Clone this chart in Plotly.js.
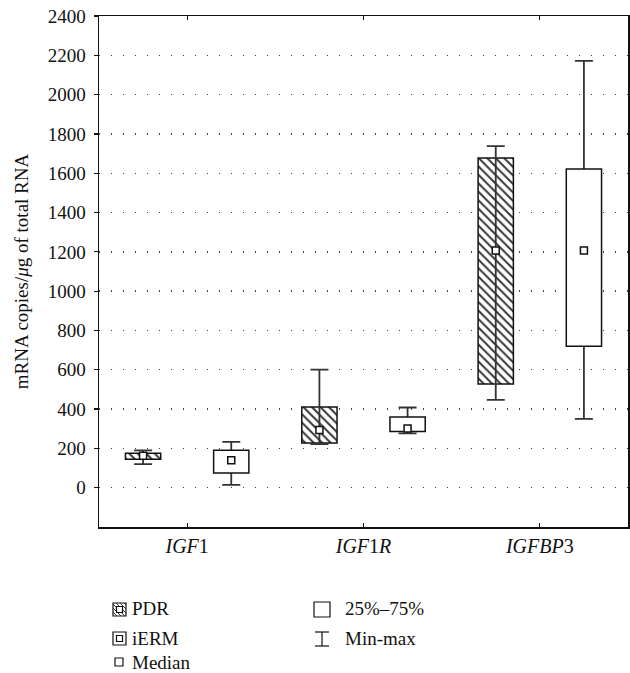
<!DOCTYPE html>
<html>
<head>
<meta charset="utf-8">
<script src="https://cdn.plot.ly/plotly-3.0.1.min.js"></script>
<style>html,body{margin:0;padding:0;background:#fff;}#chart{width:630px;height:673px;}</style>
</head>
<body>
<div id="chart"></div>
<script>
// ---- data ----
const genes = ['IGF1', 'IGF1R', 'IGFBP3'];
const geneLabels = ['<i>IGF</i>1', '<i>IGF</i>1<i>R</i>', '<i>IGFBP</i>3'];
const pdrMin    = [120, 222, 447];
const pdrQ1     = [145, 228, 528];
const pdrMedian = [163, 293, 1207];
const pdrQ3     = [175, 411, 1678];
const pdrMax    = [190, 601, 1738];
const iermMin    = [14, 276, 350];
const iermQ1     = [75, 286, 720];
const iermMedian = [140, 301, 1207];
const iermQ3     = [191, 360, 1622];
const iermMax    = [233, 408, 2172];
const yTicks = [0, 200, 400, 600, 800, 1000, 1200, 1400, 1600, 1800, 2000, 2200, 2400];
const legendLeft = ['PDR', 'iERM', 'Median'];
const legendRight = ['25%–75%', 'Min-max'];

// ---- helpers ----
const FONT = 'Liberation Serif, Times New Roman, serif';
const W = 630, H = 673, ML = 99, MR = 2, MT = 16, MB = 146;
const PW = W - ML - MR, PH = H - MT - MB;
const fx = x => (x - ML) / PW;
const fy = y => (H - MB - y) / PH;
const idx = genes.map((g, i) => i);
const sub = (a, b) => a.map((v, i) => v - b[i]);

const traces = [
  { // PDR boxes with whiskers
    type: 'bar', x: idx, base: pdrQ1, y: sub(pdrQ3, pdrQ1),
    offset: -0.35, width: 0.2,
    marker: { color: 'white', line: { color: '#111', width: 1.5 },
      pattern: { shape: '\\', fgcolor: '#333', bgcolor: 'white', size: 6, solidity: 0.32 } },
    error_y: { type: 'data', symmetric: false, array: sub(pdrMax, pdrQ3), arrayminus: sub(pdrQ3, pdrMin),
      color: '#333', thickness: 1.8, width: 9 },
    hoverinfo: 'skip'
  },
  { // iERM whiskers (under box)
    type: 'bar', x: idx, base: iermQ1, y: sub(iermQ3, iermQ1),
    offset: 0.15, width: 0.2,
    marker: { color: 'rgba(0,0,0,0)', line: { width: 0 } },
    error_y: { type: 'data', symmetric: false, array: sub(iermMax, iermQ3), arrayminus: sub(iermQ3, iermMin),
      color: '#333', thickness: 1.8, width: 9 },
    hoverinfo: 'skip'
  },
  { // iERM boxes
    type: 'bar', x: idx, base: iermQ1, y: sub(iermQ3, iermQ1),
    offset: 0.15, width: 0.2,
    marker: { color: 'white', line: { color: '#111', width: 1.5 } },
    hoverinfo: 'skip'
  },
  { type: 'scatter', mode: 'markers', x: idx.map(i => i - 0.25), y: pdrMedian,
    marker: { symbol: 'square', size: 7, color: 'white', line: { color: '#111', width: 1.5 } }, hoverinfo: 'skip' },
  { type: 'scatter', mode: 'markers', x: idx.map(i => i + 0.25), y: iermMedian,
    marker: { symbol: 'square', size: 7, color: 'white', line: { color: '#111', width: 1.5 } }, hoverinfo: 'skip' }
];

// ---- legend (shapes + annotations) ----
const shapes = [];
const rectPx = (x0, y0, x1, y1, extra) => Object.assign({
  type: 'rect', xref: 'paper', yref: 'paper', x0: fx(x0), x1: fx(x1), y0: fy(y0), y1: fy(y1),
  line: { color: '#111', width: 1.2 }, fillcolor: 'white' }, extra || {});
const pathPx = (pts, w) => ({ type: 'path', xref: 'paper', yref: 'paper',
  path: pts.map((p, i) => (i ? 'L' : 'M') + fx(p[0]) + ',' + fy(p[1])).join(' '),
  line: { color: '#111', width: w || 1.2 } });
// PDR icon: hatched square
shapes.push(rectPx(113, 603, 126, 616));
let hatch = '';
for (let k = -13; k < 13; k += 4) {
  const x0 = 113, y0 = 603, s = 13;
  let ax = Math.max(0, k), ay = ax - k;
  let bx = Math.min(s, s + k), by = bx - k;
  if (ay < 0 || ay > s || by < 0 || by > s) continue;
  hatch += 'M' + fx(x0 + ax) + ',' + fy(y0 + ay) + ' L' + fx(x0 + bx) + ',' + fy(y0 + by) + ' ';
}
shapes.push({ type: 'path', xref: 'paper', yref: 'paper', path: hatch, line: { color: '#333', width: 1 } });
shapes.push(rectPx(116.5, 606.5, 122.5, 612.5));
// iERM icon: square with small square
shapes.push(rectPx(113, 632, 126, 645));
shapes.push(rectPx(116.5, 635.5, 122.5, 641.5));
// Median icon
shapes.push(rectPx(115, 658, 123, 666));
// 25-75 icon
shapes.push(rectPx(314, 602, 330, 617));
// Min-max icon
shapes.push(pathPx([[315, 632], [329, 632]]));
shapes.push(pathPx([[322, 632], [322, 646]]));
shapes.push(pathPx([[315, 646], [329, 646]]));

const annotations = [];
const leftY = [609, 638, 662], rightY = [609, 638];
legendLeft.forEach((t, i) => annotations.push({ xref: 'paper', yref: 'paper', x: fx(130), y: fy(leftY[i]),
  xanchor: 'left', yanchor: 'middle', text: t, showarrow: false, font: { family: FONT, size: 19, color: '#111' } }));
legendRight.forEach((t, i) => annotations.push({ xref: 'paper', yref: 'paper', x: fx(343), y: fy(rightY[i]),
  xanchor: 'left', yanchor: 'middle', text: t, showarrow: false, font: { family: FONT, size: 19, color: '#111' } }));

const layout = {
  width: W, height: H,
  margin: { l: ML, r: MR, t: MT, b: MB, pad: 0 },
  paper_bgcolor: 'white', plot_bgcolor: 'white',
  showlegend: false, hovermode: false, barmode: 'overlay',
  font: { family: FONT, size: 19, color: '#111' },
  xaxis: {
    range: [-0.5, 2.5], tickvals: idx, ticktext: geneLabels,
    ticks: 'inside', ticklen: 4, tickcolor: '#111', tickwidth: 1.2,
    showline: true, linecolor: '#111', linewidth: 1.5, mirror: 'ticks',
    showgrid: false, zeroline: false, tickfont: { family: FONT, size: 20, color: '#111' }
  },
  yaxis: {
    range: [-200, 2400], tickvals: yTicks,
    ticks: 'outside', ticklen: 4, tickcolor: '#111', tickwidth: 1.2, ticklabelstandoff: 4,
    showline: true, linecolor: '#111', linewidth: 1.5, mirror: 'ticks',
    showgrid: true, gridcolor: '#444', gridwidth: 1.4, griddash: '1px,11px', zeroline: false,
    tickfont: { family: FONT, size: 19, color: '#111' },
    title: { text: 'mRNA copies/<i>μ</i>g of total RNA', font: { family: FONT, size: 19, color: '#111' }, standoff: 14 }
  },
  shapes: shapes,
  annotations: annotations
};

Plotly.newPlot('chart', traces, layout, { displayModeBar: false, staticPlot: true });
</script>
</body>
</html>
